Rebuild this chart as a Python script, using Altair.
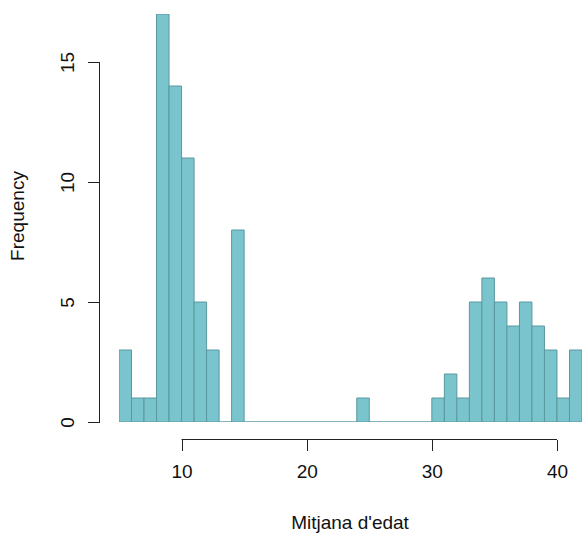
import altair as alt
import pandas as pd

bin_start = [5, 6, 7, 8, 9, 10, 11, 12, 13, 14, 15, 16, 17, 18, 19, 20, 21, 22, 23, 24,
             25, 26, 27, 28, 29, 30, 31, 32, 33, 34, 35, 36, 37, 38, 39, 40, 41]
bin_end = [6, 7, 8, 9, 10, 11, 12, 13, 14, 15, 16, 17, 18, 19, 20, 21, 22, 23, 24, 25,
           26, 27, 28, 29, 30, 31, 32, 33, 34, 35, 36, 37, 38, 39, 40, 41, 42]
counts = [3, 1, 1, 17, 14, 11, 5, 3, 0, 8, 0, 0, 0, 0, 0, 0, 0, 0, 0, 1,
          0, 0, 0, 0, 0, 1, 2, 1, 5, 6, 5, 4, 5, 4, 3, 1, 3]
x_ticks = [10, 20, 30, 40]
y_ticks = [0, 5, 10, 15]

FONT = "Liberation Sans"
FS = 19

df = pd.DataFrame({"start": bin_start, "end": bin_end, "count": counts})

xs = alt.Scale(domain=[5, 42], nice=False, zero=False)
ys = alt.Scale(domain=[0, 17], nice=False)

bars = alt.Chart(df).mark_rect(
    fill="#7AC5CD", stroke="#5A989E", strokeWidth=1, clip=True
).encode(
    x=alt.X("start:Q", scale=xs,
            axis=alt.Axis(values=x_ticks, domain=False, grid=False, offset=17.5,
                          tickSize=11, tickColor="#222", labelFont=FONT,
                          labelFontSize=FS, labelColor="#111", labelPadding=12,
                          labelFlush=False, title=None)),
    x2="end:Q",
    y=alt.Y("count:Q", scale=ys,
            axis=alt.Axis(values=y_ticks, domain=False, grid=False, offset=19.5,
                          tickSize=12, tickColor="#222", labelFont=FONT,
                          labelFontSize=FS, labelColor="#111", labelAngle=270,
                          labelAlign="center", labelBaseline="alphabetic",
                          labelPadding=14, title=None)),
    y2=alt.datum(0),
)

xline = alt.Chart(pd.DataFrame({"a": [x_ticks[0]], "b": [x_ticks[-1]]})).mark_rule(
    color="#222", strokeWidth=1
).encode(x=alt.X("a:Q", scale=xs), x2="b:Q", y=alt.value(425.5))

yline = alt.Chart(pd.DataFrame({"a": [y_ticks[0]], "b": [y_ticks[-1]]})).mark_rule(
    color="#222", strokeWidth=1
).encode(y=alt.Y("a:Q", scale=ys), y2="b:Q", x=alt.value(-19.5))

xtitle = alt.Chart(pd.DataFrame({"t": ["Mitjana d'edat"]})).mark_text(
    font=FONT, fontSize=FS, color="#111", baseline="middle", align="center"
).encode(text="t:N", x=alt.value(231), y=alt.value(509))

ytitle = alt.Chart(pd.DataFrame({"t": ["Frequency"]})).mark_text(
    font=FONT, fontSize=FS, color="#111", baseline="middle", align="center", angle=270
).encode(text="t:N", x=alt.value(-101), y=alt.value(202))

chart = alt.layer(bars, xline, yline, xtitle, ytitle).properties(
    width=463, height=408,
    padding={"left": 119, "top": 14, "right": 0, "bottom": 112},
    autosize=alt.AutoSizeParams(type="none"),
    background="white",
).configure_view(stroke=None, strokeWidth=0)

chart.save("out.html", embed_options={"renderer": "svg", "actions": False})
